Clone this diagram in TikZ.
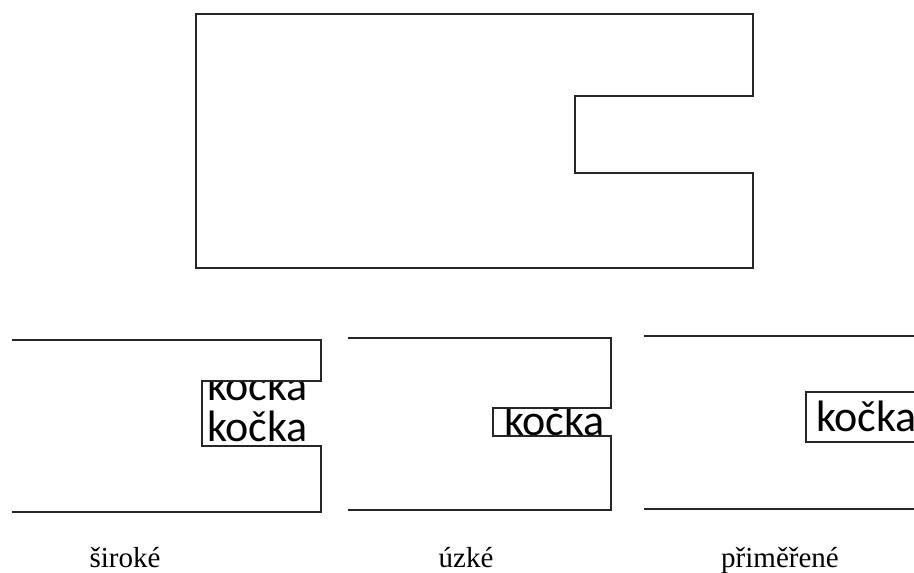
\documentclass[tikz,border=0pt]{standalone}
\usepackage{fontspec}
\setmainfont{Liberation Serif}
\newfontfamily\calib{Carlito}
\begin{document}
\begin{tikzpicture}[x=1pt,y=-1pt,
  outline/.style={draw=black!85, line width=1.2pt, line join=miter},
  word/.style={font=\calib\fontsize{44}{44}\selectfont, anchor=base west, inner sep=0pt},
  caption/.style={font=\fontsize{29}{29}\selectfont, anchor=base, inner sep=0pt}]
\useasboundingbox (0,0) rectangle (914,573);
\begin{scope}
\clip (0,0) rectangle (914,573);
% top shape
\draw[outline] (196,14) -- (753,14) -- (753,96) -- (575,96) -- (575,173) -- (753,173) -- (753,268) -- (196,268) -- cycle;
% panel 1: wide
\begin{scope}
  \clip (202,381) rectangle (321,446);
  \node[word] (k1a) at (207,400) {kočka};
  \node[word] (k1b) at (207,441) {kočka};
\end{scope}
\draw[outline] (12,340) -- (321,340) -- (321,381) -- (202,381) -- (202,446) -- (321,446) -- (321,512) -- (12,512);
% panel 2: narrow
\begin{scope}
  \clip (493,408) rectangle (611,436);
  \node[word] (k2) at (504,435) {kočka};
\end{scope}
\draw[outline] (348,338) -- (611,338) -- (611,408) -- (493,408) -- (493,436) -- (611,436) -- (611,510) -- (348,510);
% panel 3: adequate
\draw[outline] (644,336) -- (920,336);
\draw[outline] (644,509) -- (920,509);
\node[word] (k3) at (816,431) {kočka};
\draw[outline] (920,392) -- (806,392) -- (806,442) -- (920,442);
% captions
\node[caption] (c1) at (125,567) {široké};
\node[caption] (c2) at (466,567) {úzké};
\node[caption] (c3) at (780,567) {přiměřené};
\end{scope}
\end{tikzpicture}
\end{document}
